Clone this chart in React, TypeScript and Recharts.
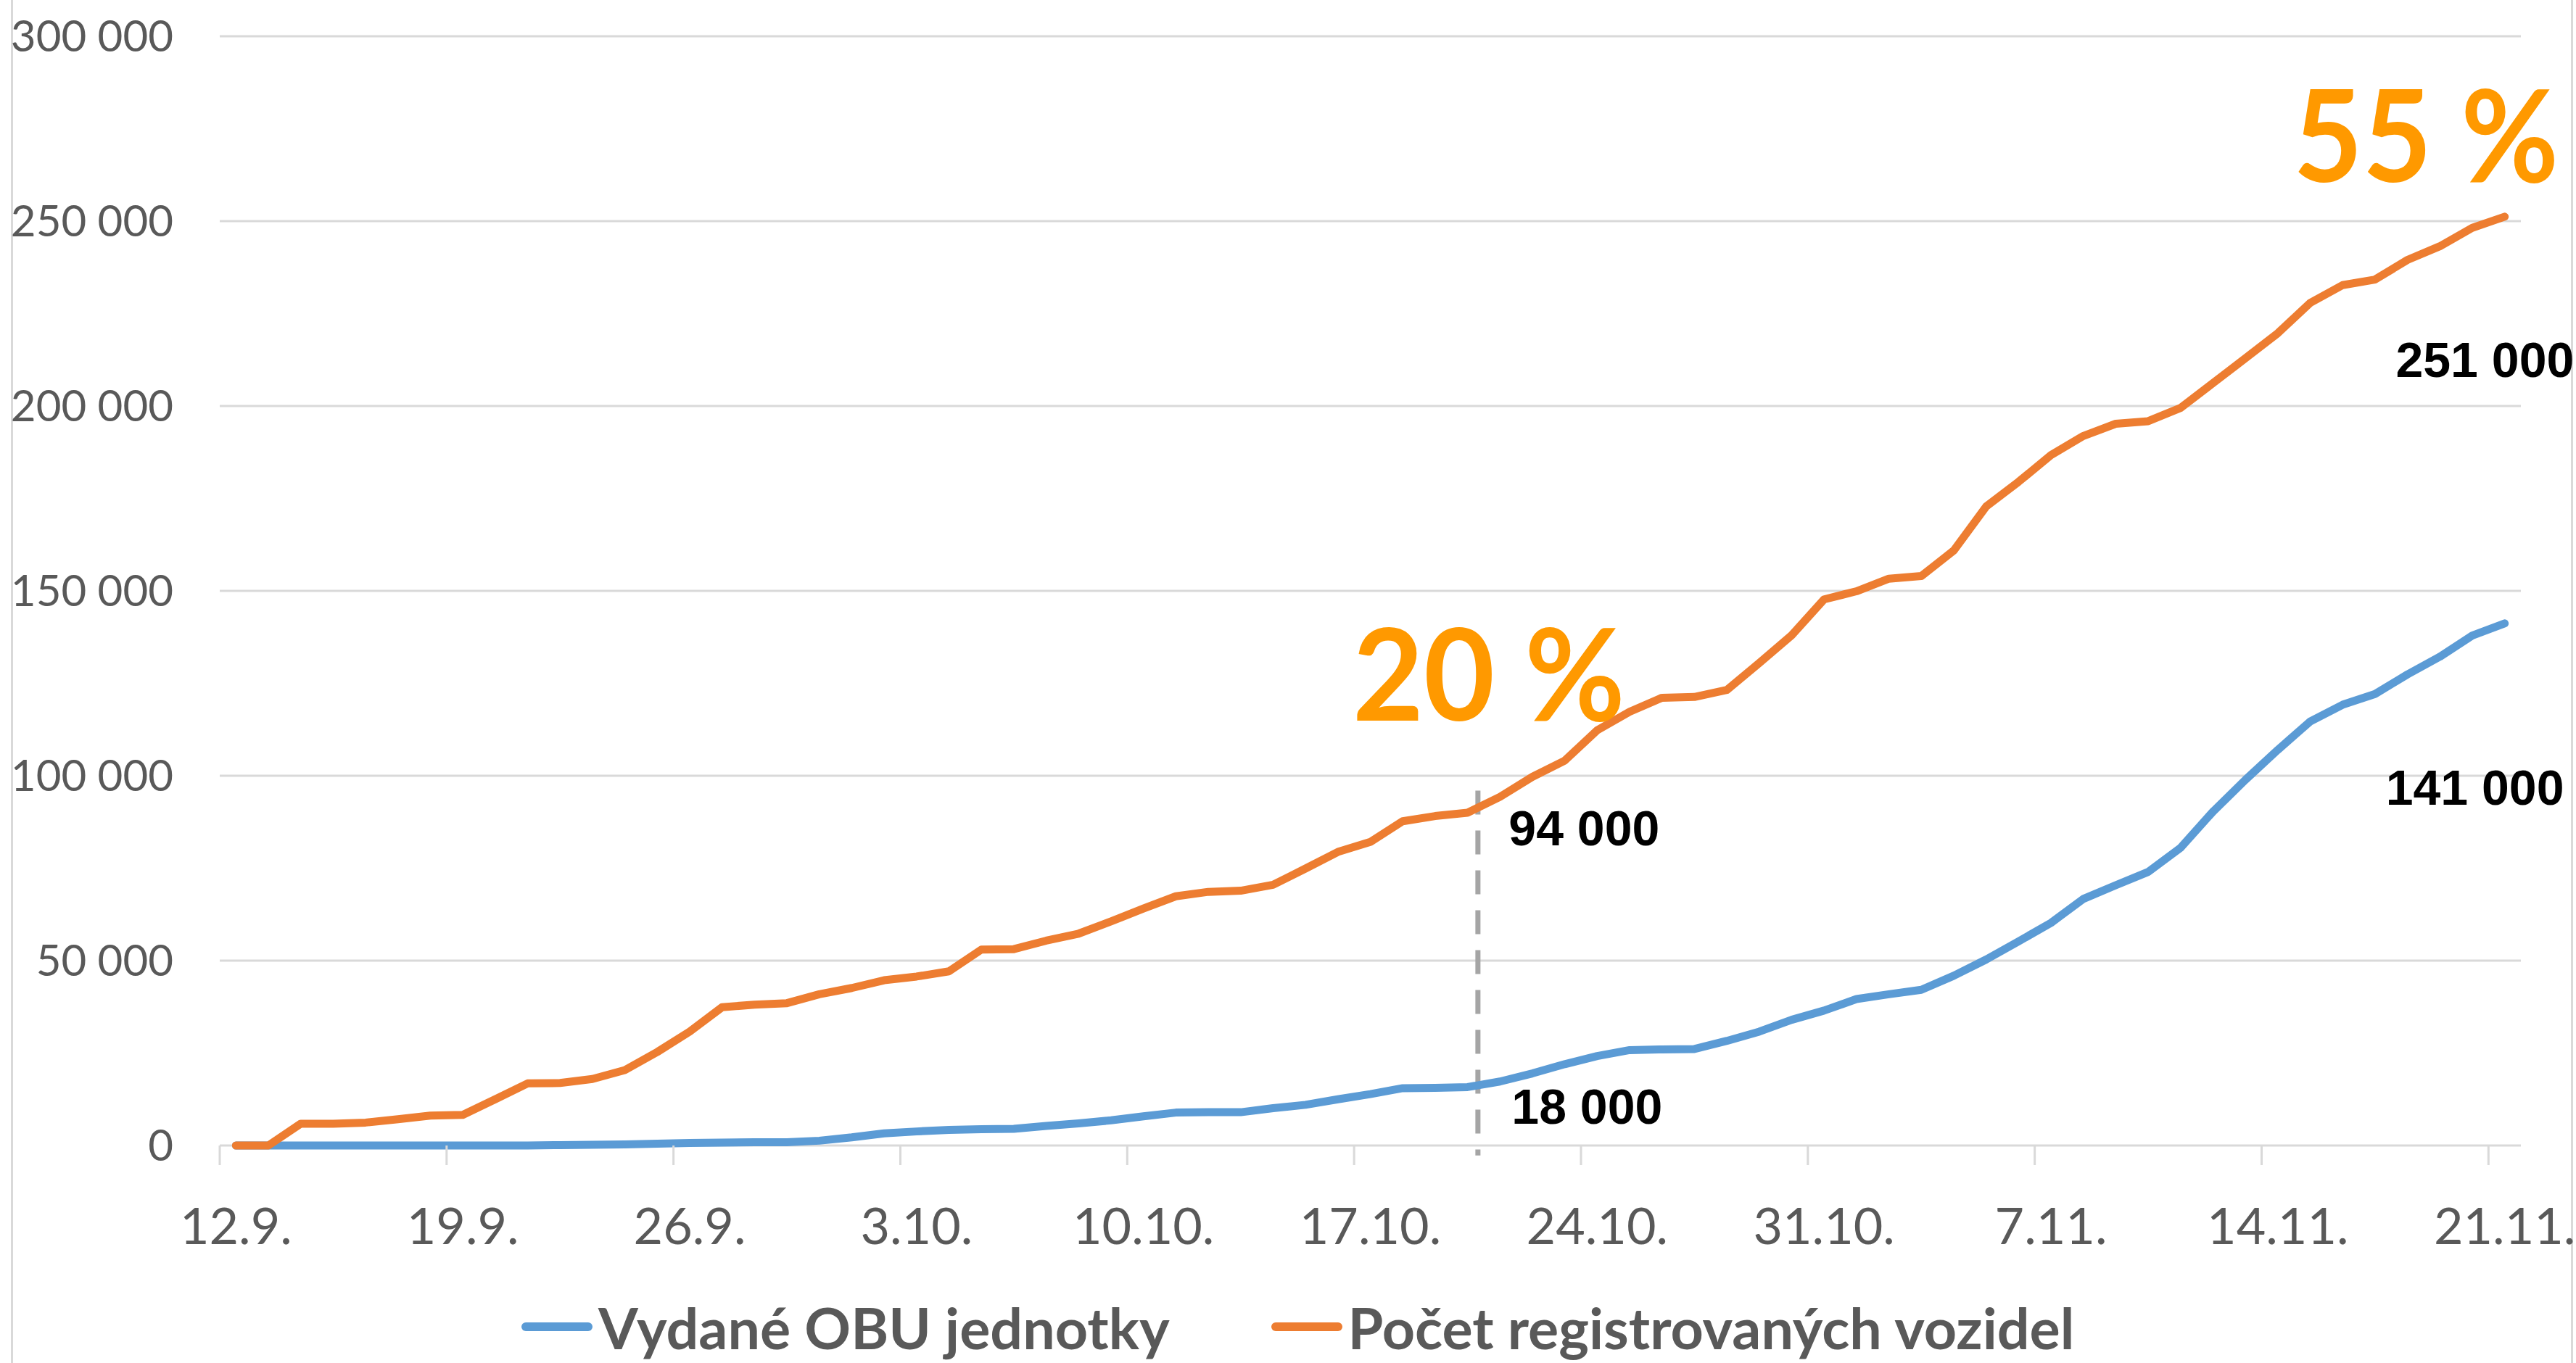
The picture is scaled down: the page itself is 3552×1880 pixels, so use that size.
import { CartesianGrid, Legend, Line, LineChart, ReferenceDot, ReferenceLine, XAxis, YAxis } from "recharts";

const chartWidth = 3552;
const chartHeight = 1880;

const dates = [
  "12.9.", "13.9.", "14.9.", "15.9.", "16.9.", "17.9.", "18.9.", "19.9.", "20.9.", "21.9.",
  "22.9.", "23.9.", "24.9.", "25.9.", "26.9.", "27.9.", "28.9.", "29.9.", "30.9.",
  "1.10.", "2.10.", "3.10.", "4.10.", "5.10.", "6.10.", "7.10.", "8.10.", "9.10.", "10.10.",
  "11.10.", "12.10.", "13.10.", "14.10.", "15.10.", "16.10.", "17.10.", "18.10.", "19.10.", "20.10.",
  "21.10.", "22.10.", "23.10.", "24.10.", "25.10.", "26.10.", "27.10.", "28.10.", "29.10.", "30.10.",
  "31.10.", "1.11.", "2.11.", "3.11.", "4.11.", "5.11.", "6.11.", "7.11.", "8.11.", "9.11.",
  "10.11.", "11.11.", "12.11.", "13.11.", "14.11.", "15.11.", "16.11.", "17.11.", "18.11.", "19.11.",
  "20.11.", "21.11."
];

// Vydané OBU jednotky
const obuUnits = [
  0, 0, 0, 0, 0, 0, 0, 0, 0, 0,
  100, 200, 300, 500, 700, 800, 900, 900, 1300,
  2200, 3300, 3800, 4200, 4400, 4500, 5300, 6000, 6800, 7900,
  8900, 9000, 9000, 10100, 11000, 12500, 13900, 15500, 15600, 15800,
  17300, 19500, 22000, 24200, 25800, 26000, 26100, 28300, 30800, 34000,
  36500, 39600, 40900, 42100, 45900, 50300, 55200, 60200, 66700, 70400,
  74000, 80500, 90300, 98900, 107000, 114700, 119200, 122100, 127400, 132200,
  137900, 141200
];

// Počet registrovaných vozidel
const registeredVehicles = [
  0, 0, 5900, 5900, 6200, 7100, 8100, 8300, 12500, 16800,
  16900, 18000, 20400, 25300, 30800, 37400, 38100, 38500, 40900,
  42600, 44700, 45700, 47100, 53000, 53100, 55400, 57300, 60600, 64100,
  67400, 68600, 68900, 70500, 74900, 79400, 82100, 87700, 89100, 90000,
  94300, 99700, 104100, 112300, 117300, 121100, 121300, 123200, 130500, 138000,
  147700, 149900, 153300, 154000, 160900, 172800, 179500, 186700, 191900, 195200,
  195900, 199500, 206200, 212900, 219700, 227900, 232700, 234200, 239500, 243200,
  248200, 251200
];

const tickDays = [0, 7, 14, 21, 28, 35, 42, 49, 56, 63, 70];
const yTicks = [0, 50000, 100000, 150000, 200000, 250000, 300000];

const series = [
  { key: "obu", name: "Vydané OBU jednotky", color: "#5B9BD5" },
  { key: "registered", name: "Počet registrovaných vozidel", color: "#ED7D31" }
];

const percentNotes = [
  { day: 34.45, value: 115000, text: "20 %", width: 376 },
  { day: 63.48, value: 260500, text: "55 %", width: 366 }
];

const valueNotes = [
  { day: 39.27, value: 81100, text: "94 000" },
  { day: 39.36, value: 5900, text: "18 000" },
  { day: 66.64, value: 207800, text: "251 000" },
  { day: 66.33, value: 92100, text: "141 000" }
];

const markerDay = 38.32;

const data = dates.map((date, day) => ({
  day,
  date,
  obu: obuUnits[day],
  registered: registeredVehicles[day]
}));

const margin = { top: 50, right: 76, left: 0, bottom: 0 };
const yAxisWidth = 303;
const plotWidth = chartWidth - margin.left - margin.right - yAxisWidth;
const band = plotWidth / 71;

const formatThousands = (v: number) => String(v).replace(/\B(?=(\d{3})+(?!\d))/g, " ");

function XTick(props: any) {
  const { x, y, payload } = props;
  const edge = x - band / 2;
  return (
    <g>
      <line x1={edge} x2={edge} y1={y} y2={y + 27} stroke="#D9D9D9" strokeWidth={3} />
      <text x={x} y={y + 136} textAnchor="middle" fill="#595959" fontFamily="Lato" fontSize={70}>
        {dates[payload.value]}
      </text>
    </g>
  );
}

function LegendContent() {
  return (
    <div style={{ display: "flex", alignItems: "center", height: 100, gap: 140, paddingLeft: 719 }}>
      {series.map((s) => (
        <div key={s.key} style={{ display: "flex", alignItems: "center" }}>
          <svg width={98} height={16}>
            <line x1={6} x2={92} y1={8} y2={8} stroke={s.color} strokeWidth={12} strokeLinecap="round" />
          </svg>
          <span style={{ marginLeft: 8, fontFamily: "Lato", fontWeight: 700, fontSize: 79, color: "#595959" }}>
            {s.name}
          </span>
        </div>
      ))}
    </div>
  );
}

export default function App() {
  return (
    <div style={{ position: "absolute", left: 0, top: 0, width: chartWidth, height: chartHeight, background: "#fff" }}>
      <div style={{ position: "absolute", left: 15, top: 0, width: 3, height: chartHeight, background: "#D9D9D9" }} />
      <div style={{ position: "absolute", left: 3545, top: 0, width: 3, height: chartHeight, background: "#D9D9D9" }} />
      <LineChart width={chartWidth} height={chartHeight} data={data} margin={margin}>
        <CartesianGrid vertical={false} stroke="#D9D9D9" strokeWidth={3} />
        <XAxis
          type="number"
          dataKey="day"
          domain={[-0.5, 70.5]}
          ticks={tickDays}
          interval={0}
          height={200}
          axisLine={false}
          tickLine={false}
          tickSize={0}
          tickMargin={0}
          tick={<XTick />}
        />
        <YAxis
          domain={[0, 300000]}
          ticks={yTicks}
          width={yAxisWidth}
          axisLine={false}
          tickLine={false}
          tickSize={0}
          tickMargin={64}
          tickFormatter={formatThousands}
          tick={{ fill: "#595959", fontSize: 60, fontFamily: "Lato" }}
        />
        <Legend
          verticalAlign="bottom"
          height={100}
          wrapperStyle={{ left: 0, width: chartWidth }}
          content={<LegendContent />}
        />
        <ReferenceLine
          segment={[{ x: markerDay, y: 96000 }, { x: markerDay, y: -2700 }]}
          stroke="#A5A5A5"
          strokeWidth={7}
          strokeDasharray="33 22"
          ifOverflow="visible"
        />
        {series.map((s) => (
          <Line
            key={s.key}
            type="linear"
            dataKey={s.key}
            name={s.name}
            stroke={s.color}
            strokeWidth={11}
            strokeLinecap="round"
            strokeLinejoin="round"
            dot={false}
            activeDot={false}
            isAnimationActive={false}
          />
        ))}
        {percentNotes.map((n) => (
          <ReferenceDot
            key={n.text}
            x={n.day}
            y={n.value}
            r={0}
            ifOverflow="visible"
            shape={(p: any) => (
              <text
                x={p.cx}
                y={p.cy}
                fill="#FF9900"
                fontFamily="Lato"
                fontWeight={700}
                fontSize={176}
                textLength={n.width}
                lengthAdjust="spacingAndGlyphs"
              >
                {n.text}
              </text>
            )}
          />
        ))}
        {valueNotes.map((n) => (
          <ReferenceDot
            key={n.text}
            x={n.day}
            y={n.value}
            r={0}
            ifOverflow="visible"
            shape={(p: any) => (
              <text x={p.cx} y={p.cy} fill="#000" fontFamily="Liberation Sans" fontWeight={700} fontSize={68}>
                {n.text}
              </text>
            )}
          />
        ))}
      </LineChart>
    </div>
  );
}
